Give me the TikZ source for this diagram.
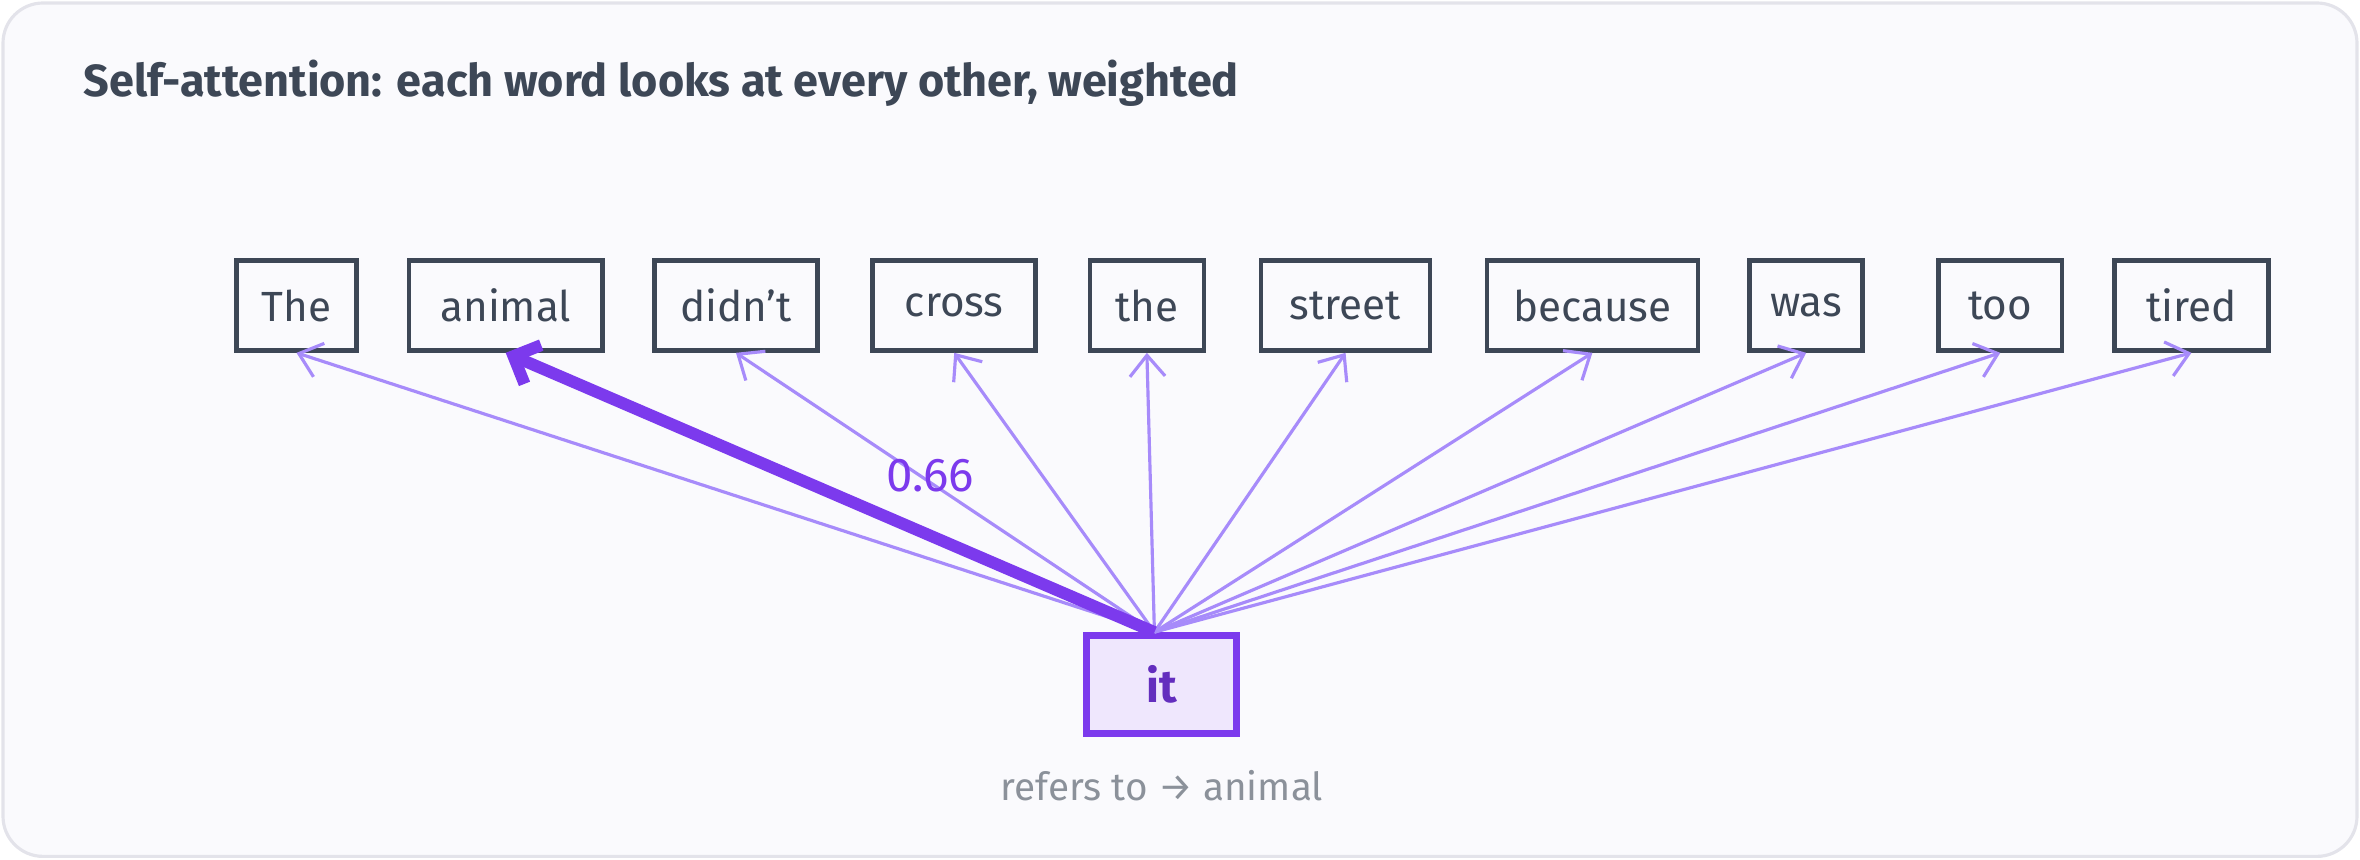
\documentclass[tikz,border=0pt]{standalone}
\usepackage{fontspec}
\setmainfont{Fira Sans}
\usetikzlibrary{arrows.meta}
\definecolor{ink}{HTML}{3D4756}
\definecolor{vio}{HTML}{7C3AED}
\definecolor{lvio}{HTML}{A78BFA}
\definecolor{bg}{HTML}{FAFAFD}
\definecolor{fr}{HTML}{E3E3EA}
\begin{document}
\begin{tikzpicture}[x=0.01505cm,y=-0.01505cm,
  word/.style={draw=ink,line width=1.3pt,minimum height=0.9cm,inner xsep=0pt,font=\fontsize{12}{15}\selectfont,text=ink},
  att/.style={draw=lvio,line width=0.9pt,-{Straight Barb[length=6pt,width=10pt]}},
  strong/.style={draw=vio,line width=3.4pt,-{Straight Barb[length=6pt,width=12pt]}}]
\useasboundingbox (0,0) rectangle (1568,571);
\draw[fr,fill=bg,line width=0.9pt,rounded corners=0.4cm] (2,2) rectangle (1566,569);
\node[anchor=west,inner xsep=0pt,font=\bfseries\fontsize{12.8}{16}\selectfont,text=ink] (title) at (55,55) {Self-attention: each word looks at every other, weighted};
\node[word,minimum width=1.20cm] (w1) at (197,203) {The};
\node[word,minimum width=1.93cm] (w2) at (336,203) {animal};
\node[word,minimum width=1.63cm] (w3) at (489,203) {didn't};
\node[word,minimum width=1.63cm] (w4) at (634,203) {cross};
\node[word,minimum width=1.14cm] (w5) at (762,203) {the};
\node[word,minimum width=1.69cm] (w6) at (894,203) {street};
\node[word,minimum width=2.11cm] (w7) at (1058,203) {because};
\node[word,minimum width=1.13cm] (w8) at (1200,203) {was};
\node[word,minimum width=1.23cm] (w9) at (1329,203) {too};
\node[word,minimum width=1.54cm] (w10) at (1456,203) {tired};
\node[draw=vio,fill=vio!12,line width=2pt,minimum width=1.5cm,minimum height=0.98cm,font=\bfseries\fontsize{13}{16}\selectfont,text=vio!80!black] (it) at (772,455) {it};
\node[font=\fontsize{11}{14}\selectfont,text=ink!60] (ref) at (772,522) {refers to → animal};
\coordinate (src) at (767,420);
\foreach \w in {w1,w3,w4,w5,w6,w7,w8,w9,w10}{\draw[att] (src) -- (\w.south);}
\draw[strong] (src) -- (w2.south);
\node[font=\fontsize{13.5}{16}\selectfont,text=vio] (lab) at (618,316) {0.66};
\end{tikzpicture}
\end{document}
